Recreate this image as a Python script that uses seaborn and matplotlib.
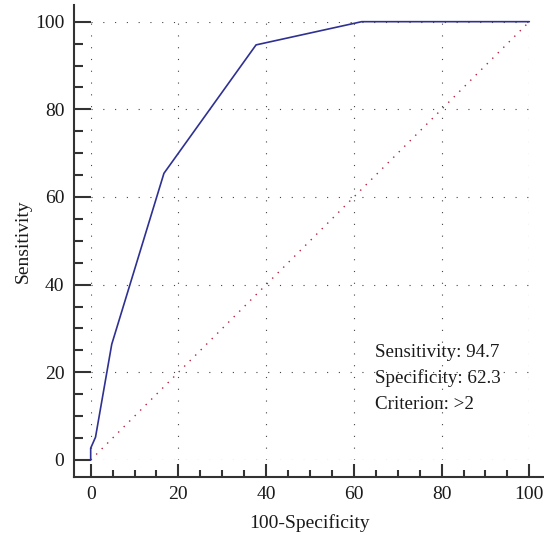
# roc_curve.py
# - ROC curve with criterion annotation
# - seaborn lineplot on offset spines, dotted grid

import matplotlib
matplotlib.use("Agg")
import matplotlib.pyplot as plt
import seaborn as sns
from matplotlib.ticker import MultipleLocator

# ROC points (100-Specificity, Sensitivity)
fpr = [0, 0, 1.1, 4.8, 16.7, 37.7, 61.8, 100]
tpr = [0, 2.7, 5.2, 26.4, 65.4, 94.7, 100, 100]

# chance diagonal
diag_x = [0, 100]
diag_y = [0, 100]

stats_lines = ["Sensitivity: 94.7", "Specificity: 62.3", "Criterion: >2"]


def main():
    sns.set_style("white")
    plt.rcParams["font.family"] = ["Liberation Serif", "DejaVu Serif"]
    plt.rcParams["font.size"] = 14

    fig = plt.figure(figsize=(5.44, 5.35), dpi=100)
    ax = fig.add_axes([0.1667, 0.1402, 0.8063, 0.8193])

    ax.grid(which="major", linestyle=(0, (1, 9.6)), color="#444444", linewidth=0.8)
    ax.set_axisbelow(True)

    sns.lineplot(x=diag_x, y=diag_y, ax=ax, color="#b3203f", linewidth=1.0,
                 linestyle=(0, (1, 4.6)), estimator=None, sort=False, clip_on=False)
    sns.lineplot(x=fpr, y=tpr, ax=ax, color="#2e3192", linewidth=1.2,
                 estimator=None, sort=False, clip_on=False)

    ax.set_xlim(0, 100)
    ax.set_ylim(0, 100)
    ax.xaxis.set_major_locator(MultipleLocator(20))
    ax.yaxis.set_major_locator(MultipleLocator(20))
    ax.xaxis.set_minor_locator(MultipleLocator(5))
    ax.yaxis.set_minor_locator(MultipleLocator(5))

    # spines pushed outward, ticks pointing back in
    for side in ["top", "right"]:
        ax.spines[side].set_visible(False)
    for side in ["left", "bottom"]:
        ax.spines[side].set_position(("outward", 12))
        ax.spines[side].set_linewidth(1.5)
        ax.spines[side].set_color("#333333")
    ax.spines["left"].set_bounds(-3.8, 103.7)
    ax.spines["bottom"].set_bounds(-3.8, 104)

    # seaborn's white style switches ticks off, so turn them back on
    ax.tick_params(which="both", bottom=True, left=True, top=False, right=False)
    ax.tick_params(axis="y", which="major", direction="in", length=12, width=1.5,
                   color="#333333", pad=7, labelsize=14, labelcolor="#1a1a1a")
    ax.tick_params(axis="y", which="minor", direction="in", length=6.2, width=1.5,
                   color="#333333")
    ax.tick_params(axis="x", which="major", direction="in", length=9.1, width=1.5,
                   color="#333333", pad=7, labelsize=14, labelcolor="#1a1a1a")
    ax.tick_params(axis="x", which="minor", direction="in", length=4.8, width=1.5,
                   color="#333333")

    ax.set_xlabel("100-Specificity", fontsize=14, color="#1a1a1a", labelpad=8)
    ax.set_ylabel("Sensitivity", fontsize=14, color="#1a1a1a", labelpad=2.5)

    for i, line in enumerate(stats_lines):
        ax.text(0.6475, 0.2343 - i * 0.0593, line, transform=ax.transAxes,
                fontsize=13.7, color="#1a1a1a", ha="left", va="baseline")

    fig.savefig("out.png", dpi=100)


if __name__ == "__main__":
    main()
